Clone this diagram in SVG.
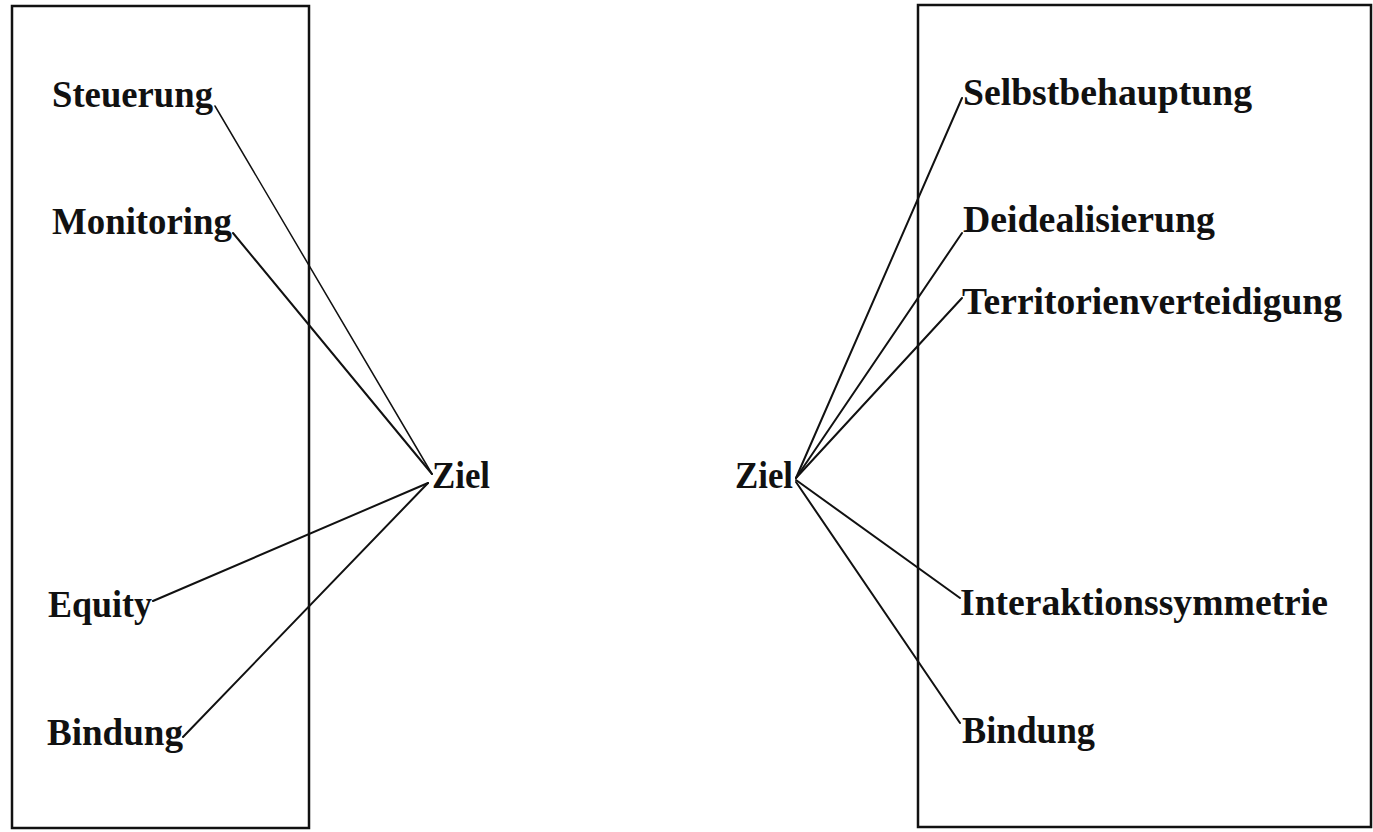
<svg xmlns="http://www.w3.org/2000/svg" width="1373" height="832" viewBox="0 0 1373 832">
<style>
.box{fill:none;stroke:#111;stroke-width:2.5}
.lbl{font-family:"Liberation Serif","Times New Roman",serif;font-weight:bold;font-size:38px;fill:#111}
.con line{stroke:#111;stroke-width:2;stroke-linecap:round}
</style>
<rect width="1373" height="832" fill="#fff"/>
<g id="box-left"><rect class="box" x="12" y="6" width="297" height="822"/></g>
<g id="box-right"><rect class="box" x="918" y="5" width="453" height="822"/></g>
<g id="connectors" class="con">
<line x1="215" y1="106" x2="432" y2="474" style="stroke-width:1.5"/>
<line x1="233" y1="233" x2="432" y2="474"/>
<line x1="153" y1="601" x2="428" y2="483"/>
<line x1="183" y1="737" x2="428" y2="483"/>
<line x1="796" y1="478" x2="962" y2="98"/>
<line x1="796" y1="478" x2="962" y2="233"/>
<line x1="796" y1="478" x2="962" y2="298"/>
<line x1="796" y1="480" x2="960" y2="598"/>
<line x1="796" y1="482" x2="960" y2="723"/>
</g>
<g id="steuerung"><text class="lbl" x="52" y="107" textLength="161" lengthAdjust="spacingAndGlyphs">Steuerung</text></g>
<g id="monitoring"><text class="lbl" x="52" y="234" textLength="180" lengthAdjust="spacingAndGlyphs">Monitoring</text></g>
<g id="equity"><text class="lbl" x="48" y="617" textLength="104" lengthAdjust="spacingAndGlyphs">Equity</text></g>
<g id="bindung-left"><text class="lbl" x="47" y="745" textLength="136" lengthAdjust="spacingAndGlyphs">Bindung</text></g>
<g id="ziel-left"><text class="lbl" x="432" y="488" textLength="58" lengthAdjust="spacingAndGlyphs">Ziel</text></g>
<g id="ziel-right"><text class="lbl" x="735" y="488" textLength="58" lengthAdjust="spacingAndGlyphs">Ziel</text></g>
<g id="selbstbehauptung"><text class="lbl" x="963" y="105" textLength="289" lengthAdjust="spacingAndGlyphs">Selbstbehauptung</text></g>
<g id="deidealisierung"><text class="lbl" x="963" y="232" textLength="252" lengthAdjust="spacingAndGlyphs">Deidealisierung</text></g>
<g id="territorienverteidigung"><text class="lbl" x="962" y="314" textLength="380" lengthAdjust="spacingAndGlyphs">Territorienverteidigung</text></g>
<g id="interaktionssymmetrie"><text class="lbl" x="960" y="615" textLength="368" lengthAdjust="spacingAndGlyphs">Interaktionssymmetrie</text></g>
<g id="bindung-right"><text class="lbl" x="962" y="743" textLength="133" lengthAdjust="spacingAndGlyphs">Bindung</text></g>
</svg>
